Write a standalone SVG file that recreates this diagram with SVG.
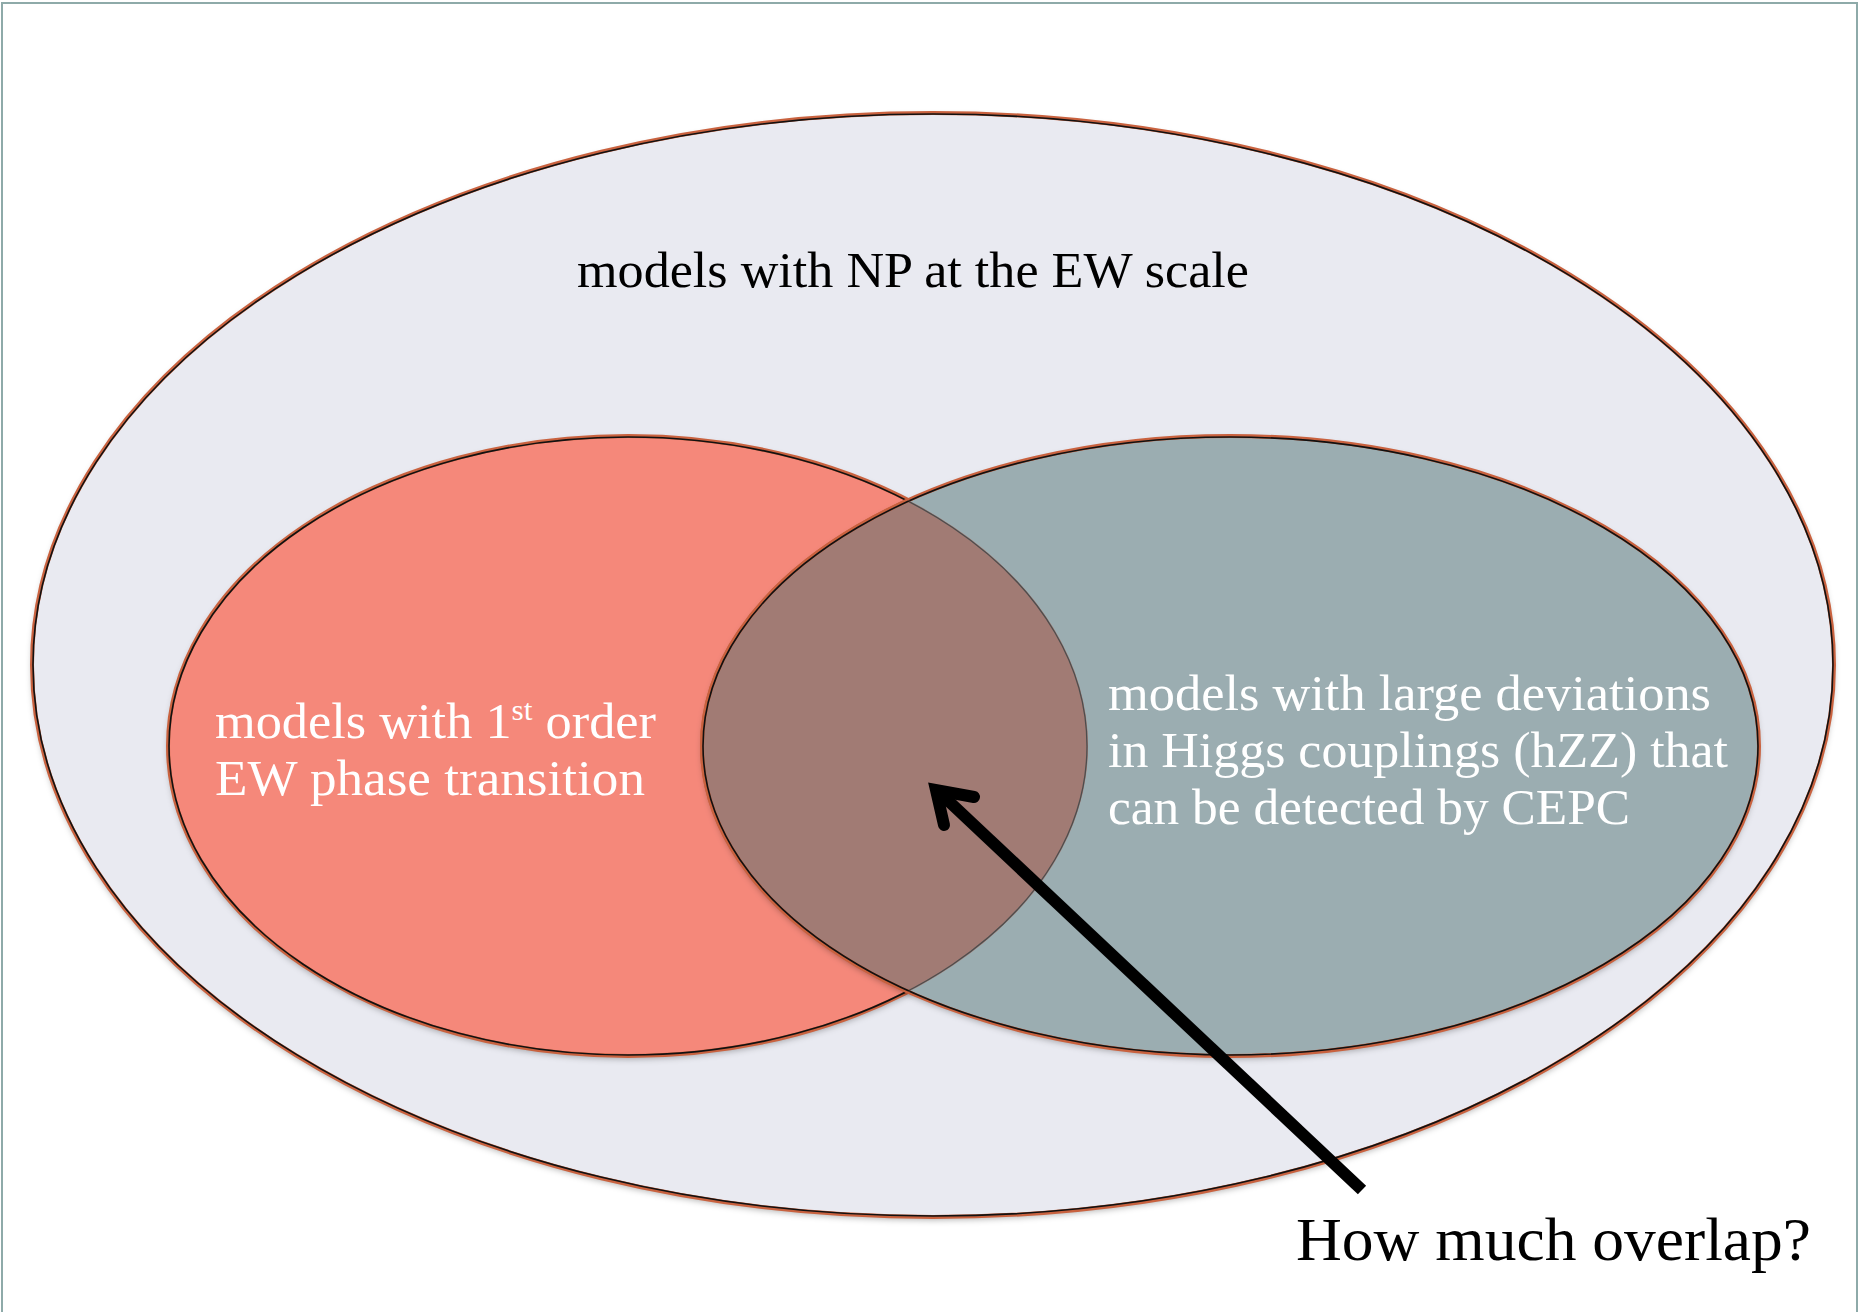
<svg xmlns="http://www.w3.org/2000/svg" width="1860" height="1312" viewBox="0 0 1860 1312">
<defs>
<filter id="sh" x="-5%" y="-5%" width="110%" height="115%"><feDropShadow dx="0" dy="3" stdDeviation="3" flood-color="#000" flood-opacity="0.3"/></filter>
<clipPath id="clipRed"><ellipse cx="628" cy="746" rx="460" ry="310"/></clipPath>
<clipPath id="clipGray"><ellipse cx="1230.5" cy="746" rx="528.5" ry="310"/></clipPath>
</defs>
<style>
.rim{fill:none;stroke:#c9623f;stroke-width:4}
.ink{fill:none;stroke:#111;stroke-width:1.6}
.thin{fill:none;stroke:#4d4d4d;stroke-width:1.3}
.lbl{font-family:"Liberation Serif","Times New Roman",serif;font-size:50px}
.w{fill:#ffffff}
.k{fill:#000000}
</style>
<rect x="0" y="0" width="1860" height="1312" fill="#ffffff"/>
<rect x="2" y="3" width="1855" height="1340" fill="none" stroke="#8eaaa9" stroke-width="2"/>

<g id="outer">
<ellipse cx="933" cy="665" rx="901" ry="552" fill="#e9eaf1" filter="url(#sh)"/>
<ellipse class="rim" cx="933" cy="665" rx="901" ry="552"/>
<ellipse class="ink" cx="933" cy="665" rx="900" ry="551"/>
<text class="lbl k" x="577" y="287" textLength="672" lengthAdjust="spacingAndGlyphs">models with NP at the EW scale</text>
</g>

<g id="red">
<ellipse cx="628" cy="746" rx="460" ry="310" fill="#f5887a" filter="url(#sh)"/>
<ellipse class="rim" cx="628" cy="746" rx="460" ry="310"/>
<ellipse class="ink" cx="628" cy="746" rx="459" ry="309"/>
</g>

<g id="gray">
<ellipse cx="1230.5" cy="746" rx="528.5" ry="310" fill="#9badb1" filter="url(#sh)"/>
<ellipse class="rim" cx="1230.5" cy="746" rx="528.5" ry="310"/>
<ellipse class="ink" cx="1230.5" cy="746" rx="527.5" ry="309"/>
</g>

<g id="overlap">
<ellipse cx="1230.5" cy="746" rx="528.5" ry="310" fill="#a17b74" clip-path="url(#clipRed)"/>
<ellipse class="thin" cx="628" cy="746" rx="459" ry="309" clip-path="url(#clipGray)"/>
<g clip-path="url(#clipRed)">
<ellipse class="rim" cx="1230.5" cy="746" rx="528.5" ry="310"/>
<ellipse class="ink" cx="1230.5" cy="746" rx="527.5" ry="309"/>
</g>
</g>

<g id="red-label">
<text class="lbl w" x="215" y="738" textLength="441" lengthAdjust="spacingAndGlyphs">models with 1<tspan font-size="30" dy="-18">st</tspan><tspan dy="18"> order</tspan></text>
<text class="lbl w" x="215" y="795" textLength="430" lengthAdjust="spacingAndGlyphs">EW phase transition</text>
</g>

<g id="gray-label">
<text class="lbl w" x="1108" y="710" textLength="603" lengthAdjust="spacingAndGlyphs">models with large deviations</text>
<text class="lbl w" x="1108" y="767" textLength="620" lengthAdjust="spacingAndGlyphs">in Higgs couplings (hZZ) that</text>
<text class="lbl w" x="1108" y="824" textLength="522" lengthAdjust="spacingAndGlyphs">can be detected by CEPC</text>
</g>

<g id="question">
<text class="lbl k" x="1296" y="1260" style="font-size:62px" textLength="515" lengthAdjust="spacingAndGlyphs">How much overlap?</text>
</g>

<g id="connectors">
<path d="M1362,1190 L940,793" fill="none" stroke="#000" stroke-width="12" stroke-linecap="butt"/>
<path d="M974,797 L936,790 L944,825" fill="none" stroke="#000" stroke-width="12" stroke-linecap="round" stroke-linejoin="miter" stroke-miterlimit="10"/>
</g>
</svg>
